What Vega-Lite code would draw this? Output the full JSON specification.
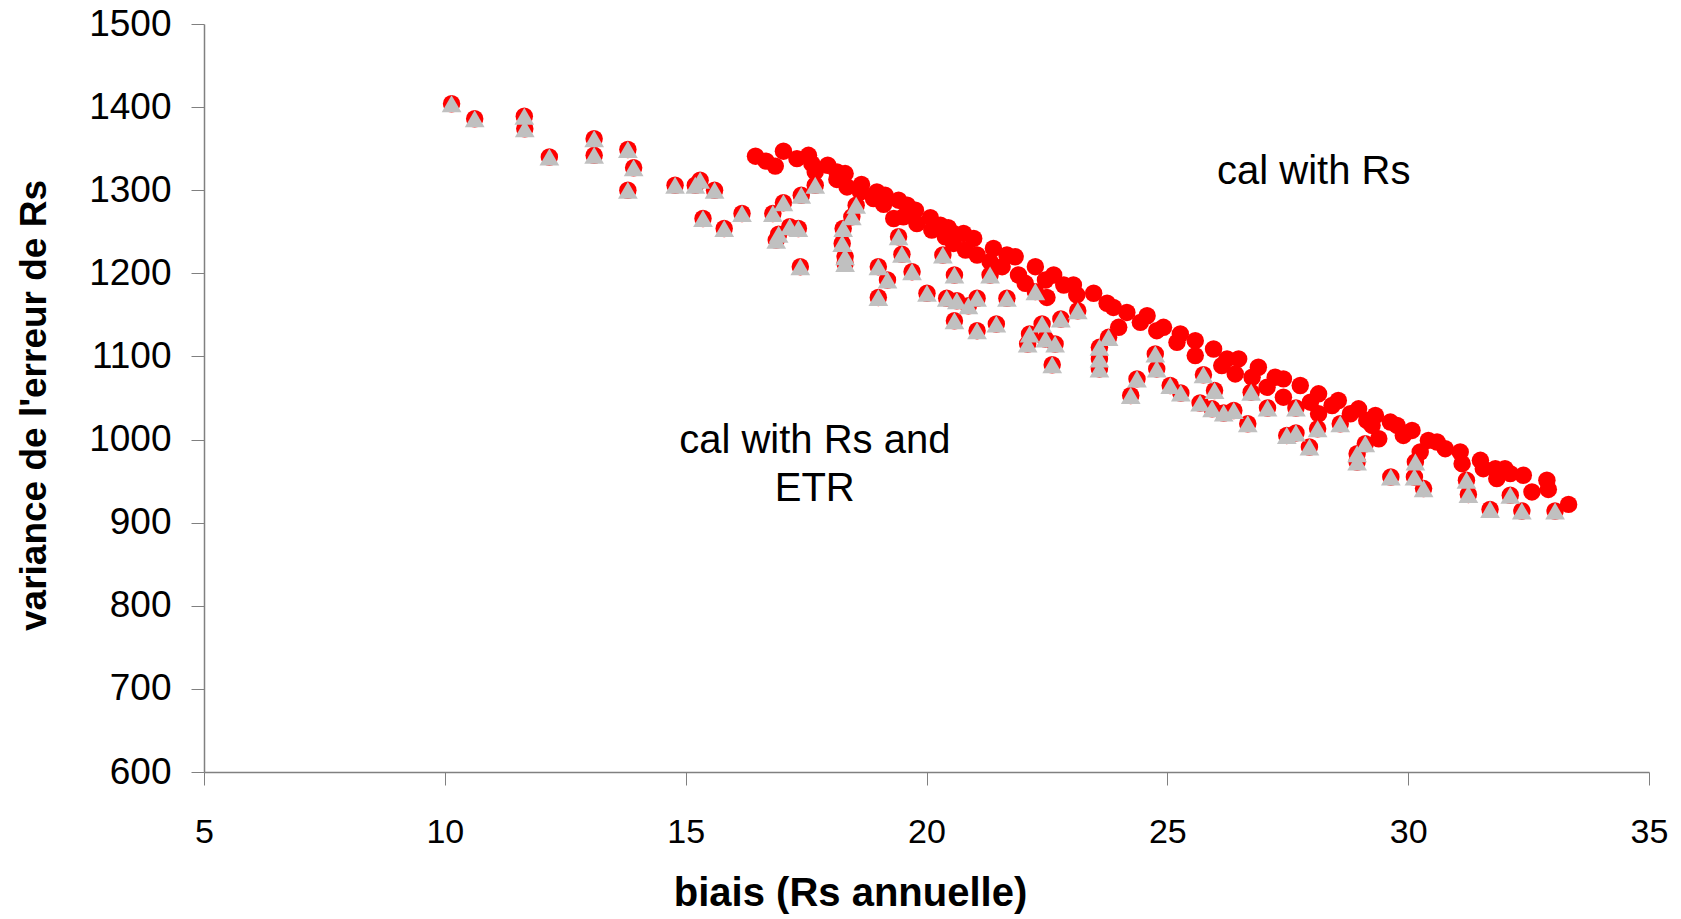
{
  "$schema": "https://vega.github.io/schema/vega-lite/v6.json",
  "width": 1445,
  "height": 748,
  "autosize": {"type": "none"},
  "padding": {"left": 204, "top": 24, "right": 32, "bottom": 147},
  "background": "white",
  "config": {
    "view": {"stroke": null},
    "font": "Liberation Sans",
    "axis": {"grid": false}
  },
  "datasets": {
    "pts": [
      {"x":16.45,"y":1341,"s":"Rs"},{"x":16.67,"y":1335,"s":"Rs"},{"x":16.86,"y":1329,"s":"Rs"},{"x":17.03,"y":1347,"s":"Rs"},
      {"x":17.31,"y":1338,"s":"Rs"},{"x":17.55,"y":1342,"s":"Rs"},{"x":17.62,"y":1332,"s":"Rs"},{"x":17.69,"y":1322,"s":"Rs"},
      {"x":17.95,"y":1330,"s":"Rs"},{"x":18.14,"y":1322,"s":"Rs"},{"x":18.31,"y":1320,"s":"Rs"},{"x":18.14,"y":1313,"s":"Rs"},
      {"x":18.35,"y":1304,"s":"Rs"},{"x":18.65,"y":1307,"s":"Rs"},{"x":18.63,"y":1298,"s":"Rs"},{"x":18.97,"y":1298,"s":"Rs"},
      {"x":19.14,"y":1294,"s":"Rs"},{"x":18.90,"y":1290,"s":"Rs"},{"x":19.11,"y":1283,"s":"Rs"},{"x":19.42,"y":1288,"s":"Rs"},
      {"x":19.60,"y":1282,"s":"Rs"},{"x":19.77,"y":1276,"s":"Rs"},{"x":19.32,"y":1266,"s":"Rs"},{"x":19.52,"y":1268,"s":"Rs"},
      {"x":19.80,"y":1260,"s":"Rs"},{"x":20.08,"y":1267,"s":"Rs"},{"x":20.11,"y":1252,"s":"Rs"},{"x":20.29,"y":1258,"s":"Rs"},
      {"x":20.39,"y":1244,"s":"Rs"},{"x":20.45,"y":1255,"s":"Rs"},{"x":20.56,"y":1248,"s":"Rs"},{"x":20.77,"y":1248,"s":"Rs"},
      {"x":20.56,"y":1236,"s":"Rs"},{"x":20.98,"y":1242,"s":"Rs"},{"x":20.81,"y":1228,"s":"Rs"},{"x":21.05,"y":1222,"s":"Rs"},
      {"x":21.39,"y":1230,"s":"Rs"},{"x":21.67,"y":1222,"s":"Rs"},{"x":21.84,"y":1220,"s":"Rs"},{"x":21.32,"y":1214,"s":"Rs"},
      {"x":21.57,"y":1208,"s":"Rs"},{"x":21.91,"y":1198,"s":"Rs"},{"x":22.26,"y":1208,"s":"Rs"},{"x":22.05,"y":1188,"s":"Rs"},
      {"x":22.64,"y":1198,"s":"Rs"},{"x":22.47,"y":1192,"s":"Rs"},{"x":22.50,"y":1171,"s":"Rs"},{"x":22.85,"y":1186,"s":"Rs"},
      {"x":23.05,"y":1186,"s":"Rs"},{"x":23.12,"y":1174,"s":"Rs"},{"x":23.47,"y":1176,"s":"Rs"},{"x":23.75,"y":1164,"s":"Rs"},
      {"x":23.88,"y":1159,"s":"Rs"},{"x":24.16,"y":1153,"s":"Rs"},{"x":23.99,"y":1135,"s":"Rs"},{"x":24.44,"y":1141,"s":"Rs"},
      {"x":24.58,"y":1149,"s":"Rs"},{"x":24.78,"y":1131,"s":"Rs"},{"x":24.92,"y":1135,"s":"Rs"},{"x":25.27,"y":1127,"s":"Rs"},
      {"x":25.20,"y":1117,"s":"Rs"},{"x":25.58,"y":1119,"s":"Rs"},{"x":25.58,"y":1101,"s":"Rs"},{"x":25.96,"y":1109,"s":"Rs"},
      {"x":26.24,"y":1097,"s":"Rs"},{"x":26.48,"y":1097,"s":"Rs"},{"x":26.13,"y":1089,"s":"Rs"},{"x":26.41,"y":1079,"s":"Rs"},
      {"x":26.89,"y":1087,"s":"Rs"},{"x":26.76,"y":1075,"s":"Rs"},{"x":27.24,"y":1075,"s":"Rs"},{"x":27.41,"y":1073,"s":"Rs"},
      {"x":27.07,"y":1063,"s":"Rs"},{"x":27.76,"y":1065,"s":"Rs"},{"x":27.41,"y":1051,"s":"Rs"},{"x":28.14,"y":1055,"s":"Rs"},
      {"x":27.97,"y":1045,"s":"Rs"},{"x":28.14,"y":1031,"s":"Rs"},{"x":28.55,"y":1047,"s":"Rs"},{"x":28.42,"y":1041,"s":"Rs"},
      {"x":28.97,"y":1037,"s":"Rs"},{"x":28.80,"y":1031,"s":"Rs"},{"x":29.14,"y":1023,"s":"Rs"},{"x":29.32,"y":1029,"s":"Rs"},
      {"x":29.25,"y":1017,"s":"Rs"},{"x":29.63,"y":1021,"s":"Rs"},{"x":29.77,"y":1017,"s":"Rs"},{"x":29.39,"y":1001,"s":"Rs"},
      {"x":29.90,"y":1005,"s":"Rs"},{"x":30.08,"y":1011,"s":"Rs"},{"x":30.42,"y":999,"s":"Rs"},{"x":30.60,"y":997,"s":"Rs"},
      {"x":30.77,"y":989,"s":"Rs"},{"x":30.25,"y":985,"s":"Rs"},{"x":31.08,"y":985,"s":"Rs"},{"x":31.12,"y":971,"s":"Rs"},
      {"x":31.50,"y":975,"s":"Rs"},{"x":31.56,"y":965,"s":"Rs"},{"x":31.81,"y":965,"s":"Rs"},{"x":32.01,"y":965,"s":"Rs"},
      {"x":31.84,"y":953,"s":"Rs"},{"x":32.12,"y":959,"s":"Rs"},{"x":32.39,"y":957,"s":"Rs"},{"x":32.57,"y":937,"s":"Rs"},
      {"x":32.88,"y":951,"s":"Rs"},{"x":32.91,"y":940,"s":"Rs"},{"x":33.33,"y":922,"s":"Rs"},
      {"x":10.14,"y":1404,"s":"RsETR"},{"x":10.62,"y":1386,"s":"RsETR"},{"x":11.65,"y":1389,"s":"RsETR"},{"x":11.66,"y":1374,"s":"RsETR"},
      {"x":12.17,"y":1340,"s":"RsETR"},{"x":13.10,"y":1362,"s":"RsETR"},{"x":13.10,"y":1342,"s":"RsETR"},{"x":13.80,"y":1349,"s":"RsETR"},
      {"x":13.92,"y":1327,"s":"RsETR"},{"x":13.80,"y":1300,"s":"RsETR"},{"x":14.78,"y":1306,"s":"RsETR"},{"x":15.20,"y":1306,"s":"RsETR"},
      {"x":15.30,"y":1312,"s":"RsETR"},{"x":15.60,"y":1300,"s":"RsETR"},{"x":15.36,"y":1266,"s":"RsETR"},{"x":15.80,"y":1254,"s":"RsETR"},
      {"x":16.17,"y":1272,"s":"RsETR"},{"x":16.81,"y":1272,"s":"RsETR"},{"x":17.03,"y":1285,"s":"RsETR"},{"x":17.40,"y":1294,"s":"RsETR"},
      {"x":17.69,"y":1306,"s":"RsETR"},{"x":17.16,"y":1256,"s":"RsETR"},{"x":17.34,"y":1254,"s":"RsETR"},{"x":16.93,"y":1247,"s":"RsETR"},
      {"x":16.88,"y":1240,"s":"RsETR"},{"x":17.38,"y":1208,"s":"RsETR"},{"x":18.54,"y":1282,"s":"RsETR"},{"x":18.45,"y":1268,"s":"RsETR"},
      {"x":18.27,"y":1254,"s":"RsETR"},{"x":18.25,"y":1236,"s":"RsETR"},{"x":18.31,"y":1220,"s":"RsETR"},{"x":18.31,"y":1212,"s":"RsETR"},
      {"x":19.00,"y":1208,"s":"RsETR"},{"x":19.19,"y":1192,"s":"RsETR"},{"x":19.00,"y":1171,"s":"RsETR"},{"x":19.42,"y":1244,"s":"RsETR"},
      {"x":19.49,"y":1223,"s":"RsETR"},{"x":19.70,"y":1202,"s":"RsETR"},{"x":20.01,"y":1176,"s":"RsETR"},{"x":20.34,"y":1222,"s":"RsETR"},
      {"x":20.42,"y":1170,"s":"RsETR"},{"x":20.58,"y":1198,"s":"RsETR"},{"x":21.32,"y":1198,"s":"RsETR"},{"x":22.26,"y":1178,"s":"RsETR"},
      {"x":20.63,"y":1167,"s":"RsETR"},{"x":20.87,"y":1161,"s":"RsETR"},{"x":21.05,"y":1170,"s":"RsETR"},{"x":21.67,"y":1170,"s":"RsETR"},
      {"x":20.58,"y":1143,"s":"RsETR"},{"x":21.05,"y":1131,"s":"RsETR"},{"x":21.45,"y":1139,"s":"RsETR"},{"x":22.40,"y":1139,"s":"RsETR"},
      {"x":22.14,"y":1127,"s":"RsETR"},{"x":22.10,"y":1115,"s":"RsETR"},{"x":22.47,"y":1121,"s":"RsETR"},{"x":22.67,"y":1115,"s":"RsETR"},
      {"x":22.61,"y":1090,"s":"RsETR"},{"x":22.79,"y":1145,"s":"RsETR"},{"x":23.14,"y":1155,"s":"RsETR"},{"x":23.78,"y":1123,"s":"RsETR"},
      {"x":23.59,"y":1111,"s":"RsETR"},{"x":23.59,"y":1097,"s":"RsETR"},{"x":23.59,"y":1085,"s":"RsETR"},{"x":24.37,"y":1073,"s":"RsETR"},
      {"x":24.24,"y":1053,"s":"RsETR"},{"x":24.75,"y":1103,"s":"RsETR"},{"x":24.78,"y":1085,"s":"RsETR"},{"x":25.06,"y":1065,"s":"RsETR"},
      {"x":25.28,"y":1056,"s":"RsETR"},{"x":25.75,"y":1078,"s":"RsETR"},{"x":25.98,"y":1059,"s":"RsETR"},{"x":25.68,"y":1044,"s":"RsETR"},
      {"x":25.93,"y":1037,"s":"RsETR"},{"x":26.17,"y":1032,"s":"RsETR"},{"x":26.38,"y":1035,"s":"RsETR"},{"x":26.67,"y":1019,"s":"RsETR"},
      {"x":26.74,"y":1057,"s":"RsETR"},{"x":27.08,"y":1038,"s":"RsETR"},{"x":27.67,"y":1038,"s":"RsETR"},{"x":27.48,"y":1005,"s":"RsETR"},
      {"x":27.67,"y":1008,"s":"RsETR"},{"x":27.95,"y":991,"s":"RsETR"},{"x":28.12,"y":1013,"s":"RsETR"},{"x":28.59,"y":1019,"s":"RsETR"},
      {"x":28.94,"y":983,"s":"RsETR"},{"x":28.94,"y":973,"s":"RsETR"},{"x":29.11,"y":995,"s":"RsETR"},{"x":29.64,"y":955,"s":"RsETR"},
      {"x":30.15,"y":973,"s":"RsETR"},{"x":30.13,"y":955,"s":"RsETR"},{"x":30.32,"y":941,"s":"RsETR"},{"x":31.21,"y":951,"s":"RsETR"},
      {"x":31.25,"y":934,"s":"RsETR"},{"x":32.12,"y":933,"s":"RsETR"},{"x":31.70,"y":916,"s":"RsETR"},{"x":32.36,"y":914,"s":"RsETR"},
      {"x":33.05,"y":914,"s":"RsETR"}
    ],
    "notes": [
      {"x": 28.04, "y": 1322, "label": "cal with Rs"},
      {"x": 17.68, "y": 998, "label": "cal with Rs and\nETR"}
    ]
  },
  "layer": [
    {
      "data": {"name": "pts"},
      "mark": {"type": "point", "shape": "circle", "filled": true, "size": 305, "color": "#FF0000", "opacity": 1},
      "encoding": {
        "x": {
          "field": "x", "type": "quantitative",
          "scale": {"domain": [5, 35], "nice": false, "zero": false},
          "axis": {
            "values": [5, 10, 15, 20, 25, 30, 35],
            "title": "biais (Rs annuelle)",
            "titleFont": "Liberation Sans", "titleFontSize": 40, "titleFontWeight": "bold", "titleColor": "#000000",
            "titleX": 646, "titleY": 121, "titleAnchor": null, "titleAlign": "center", "titleBaseline": "middle",
            "labelFont": "Liberation Sans", "labelFontSize": 34, "labelColor": "#000000", "labelPadding": 30,
            "labelFlush": false, "labelOverlap": false,
            "domainColor": "#808080", "domainWidth": 1.5, "tickColor": "#808080", "tickSize": 13, "tickWidth": 1
          }
        },
        "y": {
          "field": "y", "type": "quantitative",
          "scale": {"domain": [600, 1500], "nice": false, "zero": false},
          "axis": {
            "values": [600, 700, 800, 900, 1000, 1100, 1200, 1300, 1400, 1500],
            "format": "d",
            "title": "variance de l'erreur de Rs",
            "titleFont": "Liberation Sans", "titleFontSize": 37, "titleFontWeight": "bold", "titleColor": "#000000",
            "titleX": -170, "titleY": 381, "titleAngle": -90, "titleAnchor": null, "titleAlign": "center", "titleBaseline": "middle",
            "labelFont": "Liberation Sans", "labelFontSize": 37, "labelColor": "#000000", "labelPadding": 20,
            "labelFlush": false, "labelOverlap": false,
            "domainColor": "#808080", "domainWidth": 1.5, "tickColor": "#808080", "tickSize": 13, "tickWidth": 1
          }
        }
      }
    },
    {
      "data": {"name": "pts"},
      "transform": [{"filter": "datum.s === 'RsETR'"}],
      "mark": {"type": "point", "shape": "triangle-up", "filled": true, "size": 390, "color": "#C0C0C0", "opacity": 1},
      "encoding": {
        "x": {"field": "x", "type": "quantitative"},
        "y": {"field": "y", "type": "quantitative"}
      }
    },
    {
      "data": {"name": "notes"},
      "mark": {"type": "text", "font": "Liberation Sans", "fontSize": 40, "color": "#000000", "align": "center", "baseline": "middle", "lineBreak": "\n", "lineHeight": 48},
      "encoding": {
        "x": {"field": "x", "type": "quantitative"},
        "y": {"field": "y", "type": "quantitative"},
        "text": {"field": "label"}
      }
    }
  ]
}
